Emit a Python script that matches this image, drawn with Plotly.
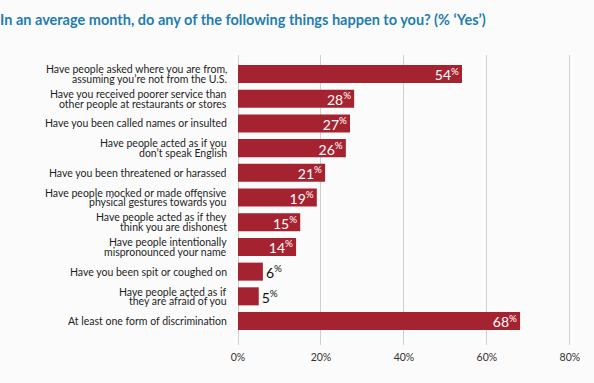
import plotly.graph_objects as go

categories = [
    "Have people asked where you are from,<br>assuming you’re not from the U.S.",
    "Have you received poorer service than<br>other people at restaurants or stores",
    "Have you been called names or insulted",
    "Have people acted as if you <br>don’t speak English",
    "Have you been threatened or harassed",
    "Have people mocked or made offensive<br>physical gestures towards you",
    "Have people acted as if they<br>think you are dishonest",
    "Have people intentionally <br>mispronounced your name",
    "Have you been spit or coughed on",
    "Have people acted as if<br>they are afraid of you",
    "At least one form of discrimination",
]
values = [54, 28, 27, 26, 21, 19, 15, 14, 6, 5, 68]
tick_vals = [0, 20, 40, 60, 80]
tick_text = ["0%", "20%", "40%", "60%", "80%"]

labels = [f"{v}<sup>%</sup>" for v in values]
positions = ["inside" if v >= 10 else "outside" for v in values]

fig = go.Figure(go.Bar(
    x=values,
    y=categories,
    orientation="h",
    marker=dict(color="#a52330", line=dict(width=0)),
    text=labels,
    textposition=positions,
    insidetextanchor="end",
    insidetextfont=dict(color="white", size=14, family="Lato"),
    outsidetextfont=dict(color="#111111", size=14, family="Lato"),
    constraintext="none",
    cliponaxis=False,
    hoverinfo="skip",
))

# category labels as annotations (tight line spacing like the reference)
LINE = 9.6
for cat in categories:
    lines = cat.split("<br>")
    n = len(lines)
    for i, ln in enumerate(lines):
        fig.add_annotation(
            x=0, xref="paper", xanchor="right", xshift=-10,
            y=cat, yref="y", yanchor="middle",
            yshift=((n - 1) / 2 - i) * LINE,
            text=ln.strip(), showarrow=False, borderpad=0,
            font=dict(family="Lato", size=10.5, color="#1e1e1e"),
        )

fig.update_layout(
    width=594, height=383,
    margin=dict(l=238, r=20, t=55, b=38, autoexpand=False),
    paper_bgcolor="#fbfbfb",
    plot_bgcolor="rgba(0,0,0,0)",
    bargap=0.27,
    showlegend=False,
    title=dict(
        text="In an average month, do any of the following things happen to you? (% ‘Yes’)",
        x=0.0, xanchor="left", xref="container",
        y=0.948, yanchor="middle", yref="container",
        pad=dict(l=0, r=0, t=0, b=0),
        font=dict(family="Lato", size=14.5, color="#1f7db0", weight="bold"),
        automargin=False,
    ),
    xaxis=dict(
        range=[0, 81],
        tickvals=tick_vals, ticktext=tick_text,
        showgrid=True, gridcolor="#cfcfcf", gridwidth=1,
        zeroline=True, zerolinecolor="#cfcfcf", zerolinewidth=1,
        showline=False,
        tickfont=dict(family="Lato", size=10.5, color="#333333"),
        ticks="", ticklabelstandoff=4,
        automargin=False,
        fixedrange=True,
    ),
    yaxis=dict(
        range=[10.97, -0.77],
        showgrid=False, zeroline=False, showline=False,
        showticklabels=False,
        ticks="",
        automargin=False,
        fixedrange=True,
    ),
)

fig.write_html(
    "out.html",
    config={"displayModeBar": False, "staticPlot": True},
    post_script="document.body.style.margin='0';document.body.style.overflow='hidden';",
)
